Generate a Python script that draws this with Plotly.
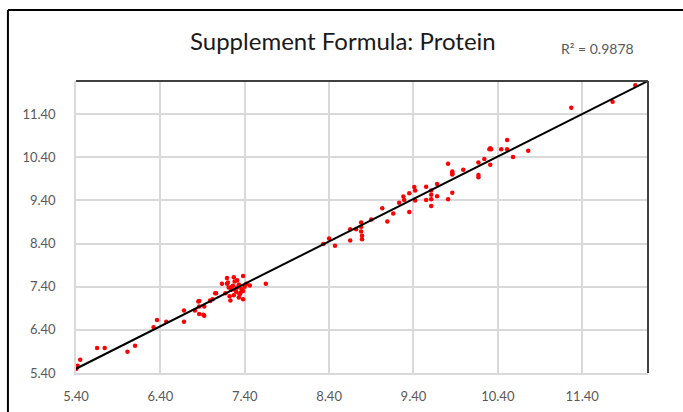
import numpy as np
import plotly.graph_objects as go

title_text = "Supplement Formula: Protein"
tick_vals = [5.4, 6.4, 7.4, 8.4, 9.4, 10.4, 11.4]
tick_text = ["5.40", "6.40", "7.40", "8.40", "9.40", "10.40", "11.40"]

x_vals = [
    5.40, 5.41, 5.42, 5.45, 5.65, 5.74, 6.01, 6.10, 6.32, 6.36, 6.47,
    6.68, 6.68, 6.81, 6.86, 6.86, 6.86, 6.92, 6.92, 6.99, 7.02, 7.06,
    6.85, 6.91, 6.99, 7.05, 7.13, 7.19, 7.19, 7.17, 7.21, 7.24, 7.26, 7.22,
    7.28, 7.30, 7.33, 7.34, 7.36, 7.38, 7.38, 7.40, 7.42, 7.46, 7.65,
    7.23, 7.38, 7.27, 7.31, 7.25, 7.29, 7.33, 7.20, 7.35, 7.31, 7.27,
    8.33, 8.40, 8.47, 8.65, 8.65, 8.72, 8.78, 8.78, 8.78, 8.79, 8.79,
    8.90, 9.03, 9.09, 9.16, 9.23, 9.28, 9.29, 9.35, 9.35, 9.41, 9.42,
    9.42, 9.55, 9.55, 9.61, 9.61, 9.61, 9.68, 9.68, 9.61, 9.81, 9.86,
    9.86, 9.86, 9.81, 9.86, 9.86, 9.99, 10.17, 10.17, 10.17, 10.24,
    10.31, 10.30, 10.31, 10.32, 10.44, 10.51, 10.51, 10.58, 10.76,
    11.27, 11.76, 12.03,
]
y_vals = [
    5.49, 5.52, 5.57, 5.71, 5.98, 5.98, 5.89, 6.03, 6.46, 6.63, 6.59,
    6.85, 6.59, 6.85, 7.07, 6.94, 6.77, 6.73, 6.94, 7.07, 7.11, 7.25,
    7.06, 6.75, 7.08, 7.25, 7.47, 7.60, 7.47, 7.25, 7.38, 7.33, 7.42, 7.18,
    7.52, 7.28, 7.45, 7.22, 7.35, 7.65, 7.11, 7.40, 7.47, 7.43, 7.47,
    7.08, 7.30, 7.20, 7.55, 7.40, 7.31, 7.15, 7.50, 7.26, 7.38, 7.62,
    8.39, 8.52, 8.35, 8.47, 8.73, 8.73, 8.89, 8.79, 8.68, 8.58, 8.50,
    8.96, 9.22, 8.91, 9.10, 9.35, 9.49, 9.41, 9.57, 9.13, 9.71, 9.63,
    9.40, 9.72, 9.41, 9.63, 9.53, 9.43, 9.78, 9.50, 9.27, 9.43, 9.58,
    10.04, 10.00, 10.25, 10.07, 10.02, 10.11, 10.28, 9.99, 9.94, 10.36,
    10.23, 10.59, 10.61, 10.59, 10.59, 10.80, 10.59, 10.41, 10.55,
    11.55, 11.69, 12.07,
]
r2_label = "R² = 0.9878"

x_range = [5.4, 12.18]
y_range = [5.4, 12.17]

# linear trendline fitted to the data
slope, intercept = np.polyfit(x_vals, y_vals, 1)
line_x = np.array([min(x_vals), x_range[1]])
line_y = slope * line_x + intercept

fig = go.Figure()
fig.add_trace(go.Scatter(
    x=x_vals, y=y_vals, mode="markers",
    marker=dict(color="#ff0000", size=4.5, line=dict(width=0)),
    showlegend=False, hoverinfo="x+y",
))
fig.add_trace(go.Scatter(
    x=line_x, y=line_y, mode="lines",
    line=dict(color="#000000", width=2),
    showlegend=False, hoverinfo="skip",
))

font_fam = "Lato, Open Sans, sans-serif"
axis_common = dict(
    tickvals=tick_vals, ticktext=tick_text, automargin=False,
    showgrid=True, gridcolor="#d9d9d9", gridwidth=1.5,
    zeroline=False, showline=True, linecolor="#d9d9d9", linewidth=1.5,
    ticks="outside", tickcolor="rgba(0,0,0,0)",
    tickfont=dict(family=font_fam, size=13, color="#595959"),
)
fig.update_xaxes(range=x_range, ticklen=11, **axis_common)
fig.update_yaxes(range=y_range, ticklen=16, **axis_common)

fig.update_layout(
    width=683, height=412,
    margin=dict(l=76, r=35, t=81, b=39),
    plot_bgcolor="white", paper_bgcolor="white",
    title=dict(text=title_text, x=0.502, xanchor="center", y=0.9, yanchor="middle",
               font=dict(family=font_fam, size=24, color="#1a1a1a")),
    annotations=[dict(text=r2_label, xref="paper", yref="paper", x=0.911, y=1.11,
                      xanchor="center", yanchor="middle", showarrow=False,
                      font=dict(family=font_fam, size=14, color="#595959"))],
    shapes=[
        # dark plot-area border on top and right
        dict(type="line", xref="paper", yref="paper", x0=0, x1=1, y0=1, y1=1,
             line=dict(color="#404040", width=2)),
        dict(type="line", xref="paper", yref="paper", x0=1, x1=1, y0=0, y1=1,
             line=dict(color="#404040", width=2)),
        # outer chart frame (top and left visible)
        dict(type="line", xref="paper", yref="paper", x0=-0.119, x1=1.1, y0=1.243, y1=1.243,
             line=dict(color="#000000", width=2)),
        dict(type="line", xref="paper", yref="paper", x0=-0.119, x1=-0.119, y0=-0.2, y1=1.243,
             line=dict(color="#000000", width=2)),
    ],
)

fig.write_html("out.html", config={"displayModeBar": False},
               post_script="document.body.style.margin='0px';document.body.style.overflow='hidden';")
